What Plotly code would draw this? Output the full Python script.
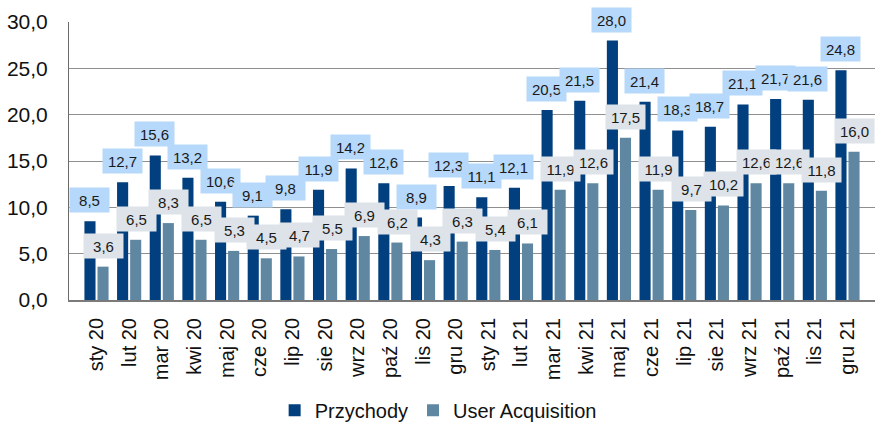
import plotly.graph_objects as go

categories = ["sty 20", "lut 20", "mar 20", "kwi 20", "maj 20", "cze 20", "lip 20", "sie 20",
              "wrz 20", "paź 20", "lis 20", "gru 20", "sty 21", "lut 21", "mar 21", "kwi 21",
              "maj 21", "cze 21", "lip 21", "sie 21", "wrz 21", "paź 21", "lis 21", "gru 21"]
przychody = [8.5, 12.7, 15.6, 13.2, 10.6, 9.1, 9.8, 11.9, 14.2, 12.6, 8.9, 12.3,
             11.1, 12.1, 20.5, 21.5, 28.0, 21.4, 18.3, 18.7, 21.1, 21.7, 21.6, 24.8]
user_acq = [3.6, 6.5, 8.3, 6.5, 5.3, 4.5, 4.7, 5.5, 6.9, 6.2, 4.3, 6.3,
            5.4, 6.1, 11.9, 12.6, 17.5, 11.9, 9.7, 10.2, 12.6, 12.6, 11.8, 16.0]
y_ticks = [0, 5, 10, 15, 20, 25, 30]

C_P = "#013f7e"
C_U = "#5f87a2"
BG_P = "#b6d8fa"
BG_U = "#dee3e9"

fig = go.Figure()
fig.add_trace(go.Bar(x=categories, y=przychody, name="Przychody", marker_color=C_P,
                     marker_line_width=0))
fig.add_trace(go.Bar(x=categories, y=user_acq, name="User Acquisition", marker_color=C_U,
                     marker_line_width=0))

def fmt(v):
    return f"{v:.1f}".replace(".", ",")

annotations = []
for series, shift, bg in ((przychody, -7, BG_P), (user_acq, 7, BG_U)):
    for c, v in zip(categories, series):
        annotations.append(dict(
            x=c, y=v, xref="x", yref="y", text=fmt(v), showarrow=False,
            xanchor="center", yanchor="bottom", xshift=shift, yshift=8,
            bgcolor=bg, width=35, height=20, borderpad=2,
            font=dict(family="Liberation Sans, Arial", size=15, color="#1a1a1a")))

fig.update_layout(
    width=888, height=423,
    margin=dict(l=69, r=13, t=22, b=123, autoexpand=False),
    paper_bgcolor="white", plot_bgcolor="white",
    barmode="group", bargap=0.2, bargroupgap=0.15,
    separators=",.",
    font=dict(family="Liberation Sans, Arial", color="#111111"),
    annotations=annotations,
    showlegend=True,
    legend=dict(orientation="h", x=0.458, xanchor="center", xref="paper",
                y=-0.397, yanchor="middle",
                font=dict(family="Liberation Sans, Arial", size=20, color="#111111"),
                itemwidth=30, tracegroupgap=0, traceorder="normal"),
)
fig.update_yaxes(range=[0, 30], tickvals=y_ticks, tickformat=".1f", automargin=False,
                 showgrid=True, gridcolor="#8f8f8f", gridwidth=1,
                 showline=True, linecolor="#6b6b6b", linewidth=1,
                 zeroline=False, ticks="", ticklabelstandoff=16,
                 tickfont=dict(family="Liberation Sans, Arial", size=21, color="#111111"))
fig.update_xaxes(tickangle=-90, showline=True, linecolor="#7a7a7a", linewidth=2,
                 ticks="", showgrid=False, automargin=False, ticklabelstandoff=8,
                 tickfont=dict(family="Liberation Sans, Arial", size=20, color="#111111"))

fig.write_html("out.html", config={"displayModeBar": False},
               post_script="document.body.style.margin='0px';document.body.style.overflow='hidden';")
